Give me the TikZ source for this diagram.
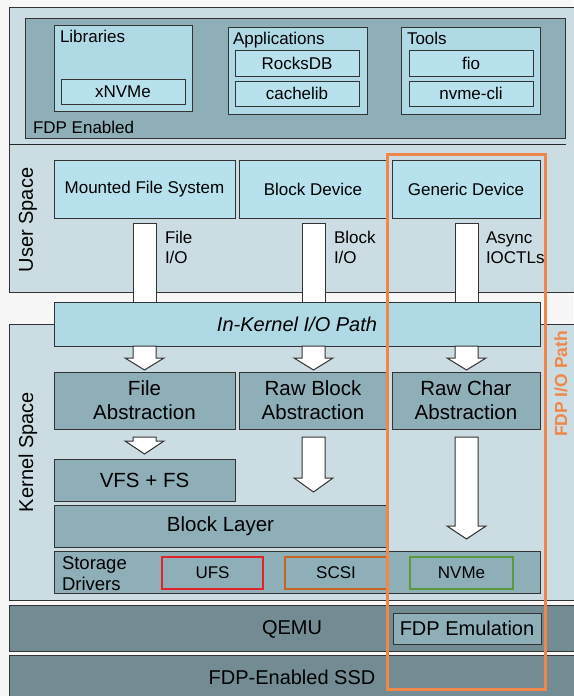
\documentclass[tikz,border=0pt]{standalone}
\usepackage{fontspec}
\setmainfont{Liberation Sans}
\definecolor{bgc}{HTML}{F7F7F7}
\definecolor{spacec}{HTML}{CBDDE3}
\definecolor{darkc}{HTML}{8EAFB8}
\definecolor{lightc}{HTML}{B0D9E6}
\definecolor{innerc}{HTML}{B6E1ED}
\definecolor{qemuc}{HTML}{738C94}
\definecolor{fdporange}{HTML}{F0874A}
\definecolor{ufsc}{HTML}{E0242A}
\definecolor{scsic}{HTML}{C8641E}
\definecolor{nvmec}{HTML}{5A9A3A}
\newcommand\bx[7]{\node[#6, minimum width={#4-#2}, minimum height={#5-#3}] (#1) at ({(#2+#4)/2},{(#3+#5)/2}) {#7};}
\newcommand\fs[2]{\fontsize{#1}{#2}\selectfont}
\newcommand\blockarrow[5]{% name, xc, ytop, yneck, ytip
  \draw[arrowline] (#2-11.5,#3) coordinate (#1top) -- (#2+11.5,#3) -- (#2+11.5,#4) -- (#2+19.5,#4) -- (#2,#5) coordinate (#1tip) -- (#2-19.5,#4) -- (#2-11.5,#4) -- cycle;}
\begin{document}
\begin{tikzpicture}[x=1pt,y=-1pt,
  every node/.style={inner sep=0pt, outer sep=0pt, font=\fs{17}{20}, text=black},
  plane/.style={draw=black!80, line width=1pt},
  spacebox/.style={plane, fill=spacec},
  darkbox/.style={plane, fill=darkc},
  lightbox/.style={plane, fill=lightc},
  innerbox/.style={plane, fill=innerc},
  qemubox/.style={plane, fill=qemuc},
  kbox/.style={darkbox, align=center, font=\fs{20.5}{24}},
  arrowline/.style={draw=black!80, line width=1pt, fill=white, line join=miter},
  drvbox/.style={line width=1.1pt, fill=darkc, font=\fs{17}{20}},
  lbl/.style={align=left, font=\fs{17}{20}}
]
\fill[bgc] (0,0) rectangle (573,696);
\useasboundingbox (0,0) rectangle (573,696);

% Big layers
\bx{user}{9}{7}{580}{292}{spacebox}{}
\bx{kernel}{9}{324}{580}{600}{spacebox}{}
\bx{qemu}{9}{605}{580}{651}{qemubox}{}
\node[font=\fs{20}{24}] (qemutxt) at (292,629) {QEMU};
\bx{ssd}{9}{655}{580}{710}{qemubox}{}
\node[font=\fs{20}{24}] (ssdtxt) at (292,677) {FDP-Enabled SSD};

% FDP enabled region
\bx{fdpen}{25}{18}{565}{138}{darkbox}{}
\node[anchor=base west] (fdpentxt) at (33,133) {FDP Enabled};
\bx{libs}{54}{25}{192}{111}{lightbox}{}
\node[anchor=base west] (libstxt) at (60,42) {Libraries};
\bx{xnvme}{61}{79}{185}{104}{innerbox}{xNVMe}
\bx{apps}{228}{27}{367}{114}{lightbox}{}
\node[anchor=base west] (appstxt) at (233,44) {Applications};
\bx{rocks}{235}{50}{359}{76}{innerbox}{RocksDB}
\bx{cache}{235}{81}{359}{106}{innerbox}{cachelib}
\bx{tools}{401}{27}{540}{114}{lightbox}{}
\node[anchor=base west] (toolstxt) at (407,44) {Tools};
\bx{fio}{409}{50}{533}{76}{innerbox}{fio}
\bx{nvmecli}{409}{81}{533}{106}{innerbox}{nvme-cli}
\draw[black!85, line width=1pt] (9,144) coordinate (sepL) -- (566,144) coordinate (sepR);

\node[rotate=90, font=\fs{20}{24}] (usertxt) at (28,220) {User Space};
\node[rotate=90, font=\fs{20}{24}] (kerneltxt) at (28,452) {Kernel Space};

% user space devices
\bx{mfs}{54}{160}{235}{218}{innerbox}{Mounted File System}
\bx{blkdev}{239}{160}{387}{218}{innerbox}{Block Device}
\bx{gendev}{392}{160}{540}{218}{innerbox}{Generic Device}

% shafts into in-kernel path
\draw[arrowline] (133,223) rectangle (156,310);
\draw[arrowline] (302,223) rectangle (325,310);
\draw[arrowline] (455,223) rectangle (478,310);
\node[lbl, anchor=base west] (fileio) at (165,263) {File\\I/O};
\node[lbl, anchor=base west] (blockio) at (334,263) {Block\\I/O};
\node[lbl, anchor=base west] (asyncio) at (486,263) {Async\\IOCTLs};

\bx{inkernel}{54}{302}{540}{346}{lightbox, font=\fs{20}{24}\itshape}{In-Kernel I/O Path}

% arrows below in-kernel path
\blockarrow{a1}{144.5}{346}{358}{370}
\blockarrow{a2}{313.5}{346}{358}{370}
\blockarrow{a3}{466.5}{346}{358}{370}

\bx{fileabs}{54}{372}{235}{429}{kbox}{File\\Abstraction}
\bx{rawblk}{239}{372}{387}{429}{kbox}{Raw Block\\Abstraction}
\bx{rawchr}{392}{372}{540}{429}{kbox}{Raw Char\\Abstraction}

\blockarrow{a4}{144.5}{437}{441}{454}
\blockarrow{a5}{313.5}{437}{478}{492}
\blockarrow{a6}{466.5}{437}{526}{539}

\bx{vfs}{54}{459}{235}{501}{darkbox, font=\fs{20.5}{24}}{VFS + FS}
\bx{blklayer}{54}{505}{387}{547}{darkbox, font=\fs{20.5}{24}}{Block Layer}

\bx{drivers}{54}{551}{540}{593}{darkbox}{}
\node[lbl, anchor=base west, font=\fs{18.5}{21}] (drvtxt) at (62,590) {Storage\\Drivers};
\bx{ufs}{162}{557}{263}{589}{drvbox, draw=ufsc}{UFS}
\bx{scsi}{285}{557}{387}{589}{drvbox, draw=scsic}{SCSI}
\bx{nvme}{410}{557}{513}{589}{drvbox, draw=nvmec}{NVMe}

\bx{fdpemu}{393}{613}{541}{644}{darkbox, font=\fs{20}{24}}{FDP Emulation}

% FDP I/O path
\draw[fdporange, line width=3pt] (387,154) coordinate (fdpTL) rectangle (545,689) coordinate (fdpBR);
\node[rotate=90, text=fdporange, font=\fs{17.5}{20}\bfseries] (fdptxt) at (561,384) {FDP I/O Path};
\end{tikzpicture}
\end{document}
